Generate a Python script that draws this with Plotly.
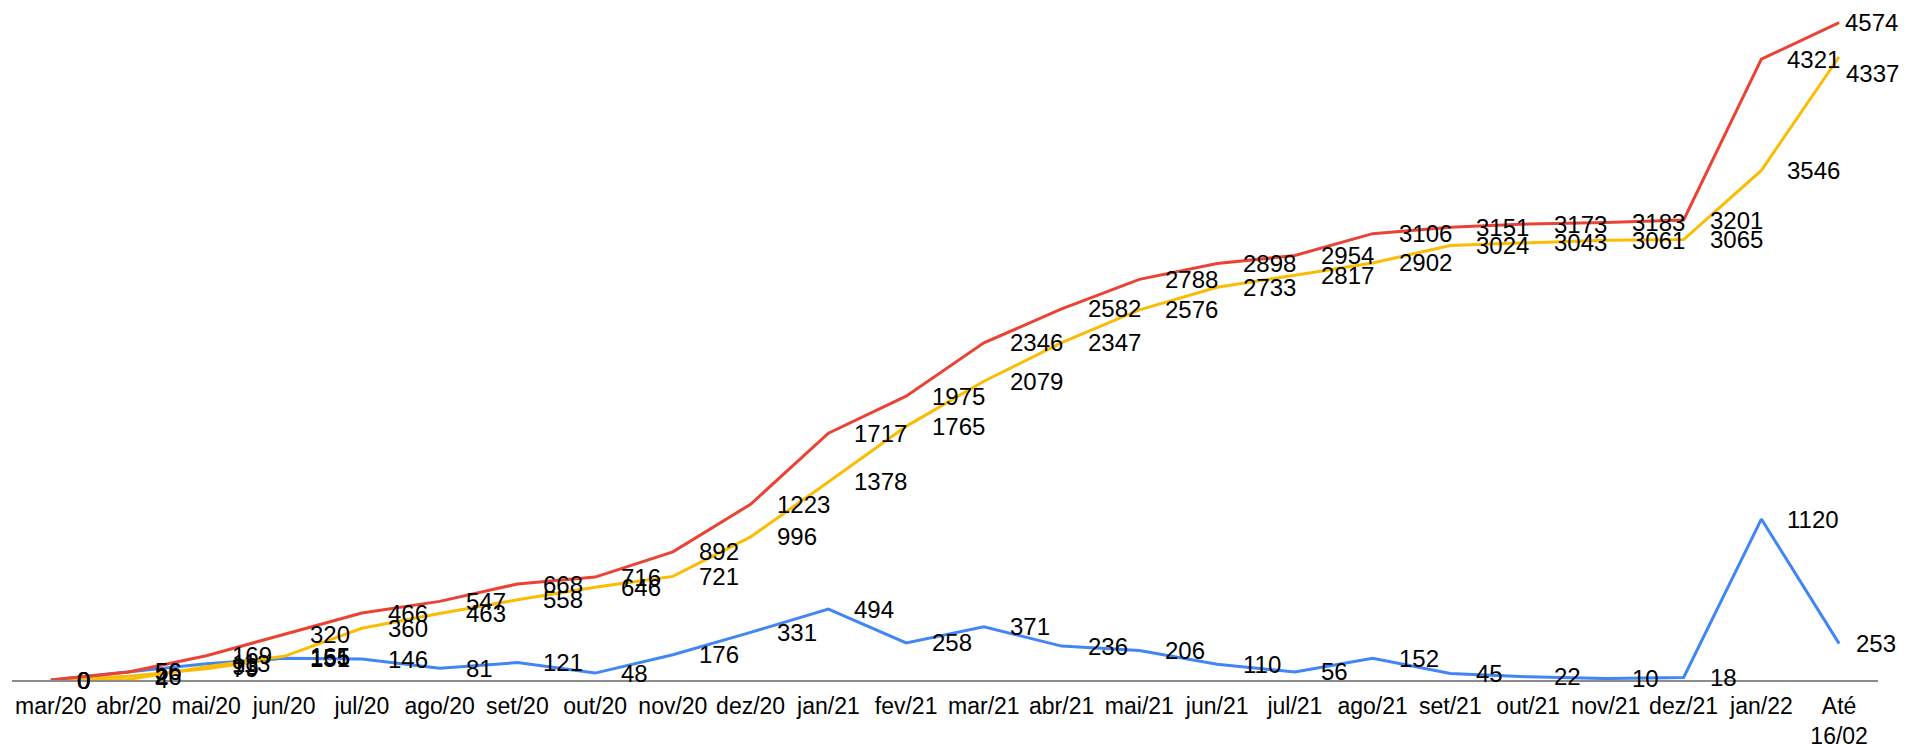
import plotly.graph_objects as go

categories = ["mar/20", "abr/20", "mai/20", "jun/20", "jul/20", "ago/20", "set/20", "out/20",
              "nov/20", "dez/20", "jan/21", "fev/21", "mar/21", "abr/21", "mai/21", "jun/21",
              "jul/21", "ago/21", "set/21", "out/21", "nov/21", "dez/21", "jan/22", "Até<br>16/02"]

red_values = [0, 56, 169, 320, 466, 547, 668, 716, 892, 1223, 1717, 1975, 2346, 2582, 2788, 2898,
              2954, 3106, 3151, 3173, 3183, 3201, 4321, 4574]
yellow_values = [0, 4, 93, 165, 360, 463, 558, 646, 721, 996, 1378, 1765, 2079, 2347, 2576, 2733,
                 2817, 2902, 3024, 3043, 3061, 3065, 3546, 4337]
blue_values = [0, 56, 113, 151, 146, 81, 121, 48, 176, 331, 494, 258, 371, 236, 206, 110,
               56, 152, 45, 22, 10, 18, 1120, 253]
# extra data labels visible in the first months (series drawn under the yellow line)
extra_values = [0, 26, 79, 155] + [None] * 20

RED = "#EA4335"
YELLOW = "#FBBC04"
BLUE = "#4285F4"
FONT = "Liberation Sans, Arial, sans-serif"

fig = go.Figure()
for vals, col in [(extra_values, YELLOW), (blue_values, BLUE), (yellow_values, YELLOW),
                  (red_values, RED)]:
    fig.add_trace(go.Scatter(x=categories, y=vals, mode="lines",
                             line=dict(color=col, width=3), hoverinfo="skip",
                             showlegend=False))

# data labels: to the right of each point
n = len(categories)
series = [(red_values, "red"), (yellow_values, "yellow"), (blue_values, "blue"),
          (extra_values, "extra")]
last_shift = {"red": (4, 0), "yellow": (5, -17), "blue": (15, 0), "extra": (24, 0)}
for vals, name in series:
    for i, (c, v) in enumerate(zip(categories, vals)):
        if v is None:
            continue
        xs, ys = (24, 0)
        if i == n - 1:
            xs, ys = last_shift[name]
        fig.add_annotation(x=c, y=v, text=str(v), showarrow=False,
                           xanchor="left", yanchor="middle", xshift=xs, yshift=ys,
                           font=dict(family=FONT, size=24, color="#000000"))

fig.update_layout(
    width=1906, height=744,
    margin=dict(l=12, r=28, t=0, b=64, autoexpand=False),
    paper_bgcolor="white", plot_bgcolor="white",
    font=dict(family=FONT, size=24, color="#000000"),
    xaxis=dict(type="category", range=[-0.5, n - 0.5], showgrid=False, zeroline=False,
               showline=True, linecolor="#8c8c8c", linewidth=2, ticks="",
               automargin=False, ticklabelstandoff=4,
               tickfont=dict(family=FONT, size=23, color="#000000")),
    yaxis=dict(range=[0, 4732], showgrid=False, zeroline=False, showticklabels=False,
               showline=False, automargin=False),
)

fig.write_html("out.html", config={"displayModeBar": False},
               post_script="document.body.style.margin='0';document.body.style.overflow='hidden';")
